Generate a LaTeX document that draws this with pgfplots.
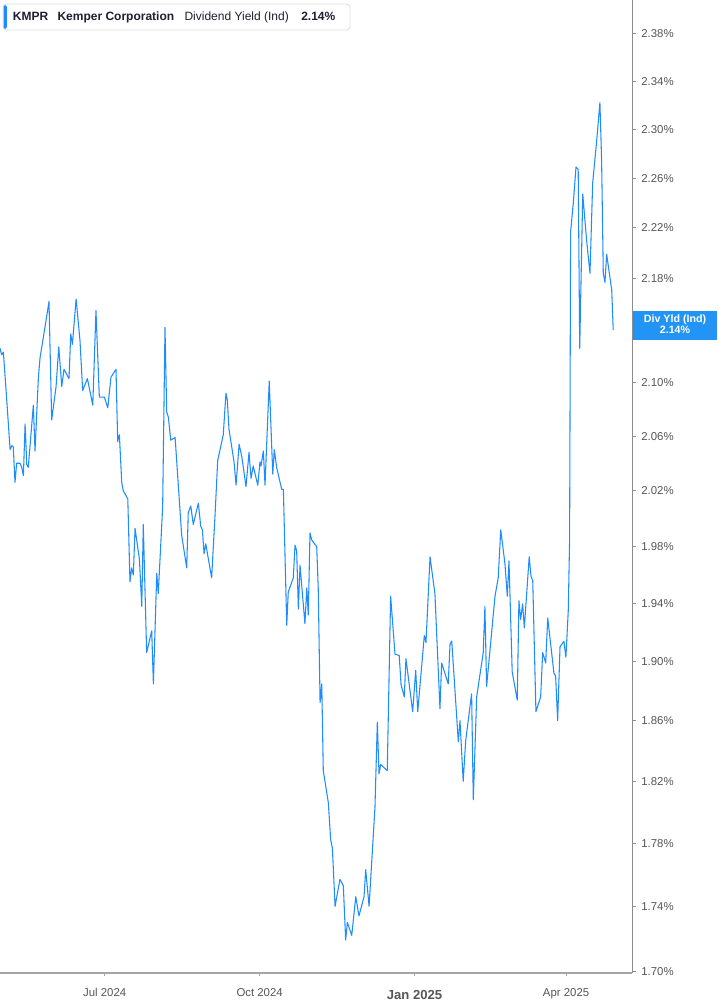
\documentclass[border=0pt]{standalone}
\usepackage{fontspec}
\setmainfont{Liberation Sans}
\usepackage{pgfplots}
\usepackage{pgfplotstable}
\pgfplotsset{compat=1.18}
\definecolor{lineblue}{RGB}{30,140,255}
\definecolor{boxblue}{RGB}{33,148,245}
\definecolor{ticktxt}{RGB}{85,85,90}
\definecolor{axisgrey}{RGB}{165,165,165}
\definecolor{legtxt}{RGB}{28,32,48}

% x: days since 1 Jul 2024, y: dividend yield (%)
\pgfplotstableread{
x y
-62.2 2.126
-61.2 2.121
-60.2 2.123
-58.2 2.087
-56.2 2.050
-55.2 2.053
-54.3 2.052
-53.3 2.026
-52.3 2.040
-50.3 2.040
-49.3 2.037
-48.3 2.031
-47.3 2.069
-46.3 2.039
-45.4 2.037
-42.4 2.083
-41.4 2.049
-39.4 2.104
-38.4 2.119
-35.5 2.142
-33.1 2.162
-31.5 2.072
-28.9 2.097
-27.3 2.127
-25.5 2.097
-24.2 2.110
-21.2 2.103
-20.2 2.137
-19.2 2.129
-17.0 2.164
-14.7 2.132
-13.1 2.094
-10.3 2.103
-7.1 2.083
-5.2 2.155
-3.2 2.089
-0.2 2.089
1.8 2.081
3.7 2.104
6.7 2.110
7.7 2.056
8.7 2.061
10.1 2.026
11.0 2.020
13.7 2.014
15.0 1.955
16.0 1.965
17.0 1.960
18.0 1.993
20.6 1.971
22.0 1.938
22.9 1.996
24.9 1.906
27.9 1.921
28.9 1.885
30.9 1.961
31.8 1.947
34.4 2.008
35.8 2.142
36.8 2.078
37.8 2.074
39.2 2.057
41.8 2.059
45.7 1.988
48.7 1.965
49.6 2.004
51.1 2.009
52.6 1.996
55.6 2.011
57.0 1.995
58.0 1.992
59.0 1.975
60.0 1.982
63.5 1.958
65.5 2.002
67.1 2.042
70.4 2.061
72.0 2.092
72.8 2.087
73.8 2.065
76.8 2.041
78.0 2.024
79.8 2.054
81.4 2.045
83.9 2.023
85.7 2.048
86.9 2.029
88.2 2.038
90.9 2.024
92.2 2.041
92.8 2.038
94.2 2.049
95.2 2.024
97.7 2.101
99.8 2.032
100.7 2.050
102.1 2.037
105.1 2.021
106.1 2.021
108.1 1.925
109.0 1.948
112.0 1.958
113.0 1.981
114.0 1.977
115.0 1.936
116.0 1.967
118.9 1.926
120.0 1.951
120.9 1.932
121.9 1.990
122.9 1.985
125.9 1.980
126.8 1.951
127.9 1.872
128.9 1.885
129.8 1.827
132.8 1.806
134.2 1.782
135.2 1.777
136.8 1.740
139.7 1.757
141.7 1.753
143.1 1.719
144.1 1.730
146.7 1.722
149.1 1.746
151.0 1.734
154.0 1.746
155.0 1.763
157.0 1.740
160.5 1.803
161.9 1.859
162.9 1.825
163.9 1.831
167.8 1.827
169.8 1.945
172.4 1.905
174.9 1.904
176.0 1.884
177.9 1.876
178.9 1.902
182.9 1.866
184.7 1.894
185.9 1.866
189.8 1.918
190.8 1.913
193.2 1.973
196.1 1.947
199.1 1.868
200.1 1.899
204.0 1.885
205.1 1.912
206.1 1.914
210.0 1.846
211.0 1.860
212.9 1.820
214.4 1.847
217.9 1.878
218.9 1.808
220.9 1.876
224.8 1.906
225.8 1.938
226.8 1.883
231.8 1.945
233.7 1.958
235.2 1.992
237.7 1.968
239.1 1.945
240.1 1.970
242.0 1.893
245.0 1.874
246.0 1.942
247.0 1.929
248.2 1.940
249.2 1.923
252.1 1.973
253.2 1.959
254.2 1.956
256.1 1.866
258.9 1.876
260.1 1.906
261.9 1.899
263.1 1.930
266.8 1.892
267.8 1.890
269.0 1.860
270.4 1.910
272.7 1.914
273.9 1.903
275.3 1.935
276.1 1.985
276.7 2.217
278.3 2.240
279.9 2.269
281.2 2.267
282.1 2.126
283.9 2.247
286.2 2.210
288.2 2.184
289.8 2.256
292.2 2.291
294.1 2.322
295.1 2.275
296.1 2.184
297.1 2.177
298.1 2.199
301.1 2.171
302.0 2.140
}\yielddata

\begin{document}
\begin{tikzpicture}[x=0.75pt,y=0.75pt]
\begin{axis}[
  at={(0pt,24pt)}, anchor=south west,
  scale only axis,
  width=474.3pt, height=729.75pt,
  xmin=-62.2, xmax=313.4,
  ymode=log,
  ymin=1.6988, ymax=2.4092,
  axis x line*=bottom,
  axis y line*=right,
  x axis line style={draw=axisgrey, line width=1.3pt, -},
  y axis line style={draw=axisgrey!85!black, line width=0.8pt, -},
  tick align=outside,
  major tick length=2.5pt,
  xtick style={draw=axisgrey, line width=0.8pt},
  ytick style={draw=axisgrey!85!black, line width=0.8pt},
  minor tick num=0,
  xtick={0,92,184,274},
  xticklabels={Jul 2024, Oct 2024, {\raisebox{-1.8pt}{\fontsize{9.8}{11}\selectfont\bfseries Jan 2025}}, Apr 2025},
  xticklabel style={font=\fontsize{8.55}{10}\selectfont, text=ticktxt, anchor=base, yshift=-15.5pt},
  ytick={1.70,1.74,1.78,1.82,1.86,1.90,1.94,1.98,2.02,2.06,2.10,2.14,2.18,2.22,2.26,2.30,2.34,2.38},
  yticklabels={1.70\%,1.74\%,1.78\%,1.82\%,1.86\%,1.90\%,1.94\%,1.98\%,2.02\%,2.06\%,2.10\%,{},2.18\%,2.22\%,2.26\%,2.30\%,2.34\%,2.38\%},
  yticklabel style={font=\fontsize{8.55}{10}\selectfont, text=ticktxt, anchor=west, inner sep=0pt, xshift=4pt},
  grid=none,
  clip=true,
]
\addplot[lineblue, line width=0.8pt, line join=round] table[x=x,y=y] {\yielddata};
\end{axis}
% legend box top left
\draw[draw=black!12, fill=white, rounded corners=2.5, line width=0.7pt] (3,1001) rectangle (350,975);
\fill[lineblue, rounded corners=1.2] (3.5,1000) rectangle (6.8,976);
\node[anchor=base west, inner sep=0pt, text=legtxt, font=\fontsize{9}{11}\selectfont\bfseries] at (12.7,984.5) {KMPR};
\node[anchor=base west, inner sep=0pt, text=legtxt, font=\fontsize{9}{11}\selectfont\bfseries] at (57.3,984.5) {Kemper Corporation};
\node[anchor=base west, inner sep=0pt, text=legtxt, font=\fontsize{9}{11}\selectfont] at (184.3,984.5) {Dividend Yield (Ind)};
\node[anchor=base west, inner sep=0pt, text=legtxt, font=\fontsize{9}{11}\selectfont\bfseries] at (301,984.5) {2.14\%};
% current value label on the right axis
\fill[boxblue] (633,694) rectangle (717,665);
\node[anchor=center, inner sep=0pt, text=white, font=\fontsize{8}{9}\selectfont\bfseries] at (675,685.7) {Div Yld (Ind)};
\node[anchor=center, inner sep=0pt, text=white, font=\fontsize{8}{9}\selectfont\bfseries] at (675,675) {2.14\%};
\pgfresetboundingbox
\path[use as bounding box] (0,0) rectangle (717,1005);
\end{tikzpicture}
\end{document}
